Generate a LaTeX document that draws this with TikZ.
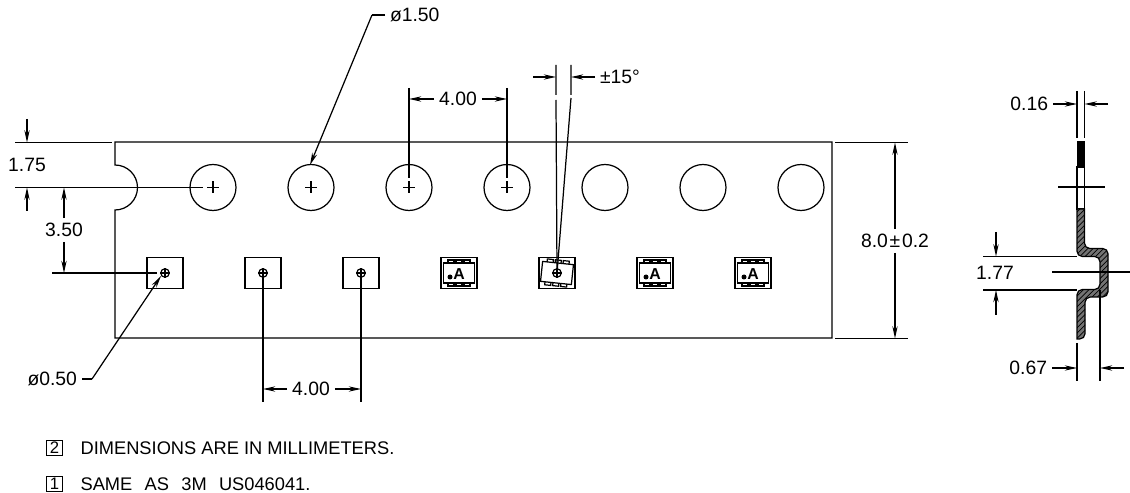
\documentclass[tikz,border=0pt]{standalone}
\usepackage{fontspec}
\setmainfont{Liberation Sans}
\usetikzlibrary{arrows.meta,patterns}
\tikzset{
every picture/.style={
line width=0.7pt
}}

\begin{document}
\begin{tikzpicture}[x=0.02cm, y=-0.02cm,
hole/.style = {circle, draw=black, inner sep=0pt, minimum size=0.92cm},
pocket/.style = {rectangle, draw=black, inner sep=0pt, minimum width=0.72cm, minimum height=0.63cm},
marker/.style = {circle, draw=black, inner sep=0pt, minimum size=0.17cm},
dim/.style = {font=\fontsize{11}{13}\selectfont, inner sep=2.5pt},
note/.style = {font=\fontsize{10.4}{12}\selectfont, inner sep=0pt, anchor=west},
numbox/.style = {draw=black, inner sep=0pt, minimum width=0.33cm, minimum height=0.31cm, font=\fontsize{9.5}{10}\selectfont},
letter/.style = {font=\fontsize{9}{9}\selectfont\bfseries, inner sep=0pt},
arr/.style = {-{Stealth[length=7pt,width=3pt]}},
chip/.pic = {
  \draw (-15.5,-10) rectangle (15.5,10);
  \draw (-11,-10) -- (-11,-13) -- (-5,-13) -- (-5,-10);
  \draw (-3,-10) -- (-3,-13) -- (3,-13) -- (3,-10);
  \draw (5,-10) -- (5,-13) -- (11,-13) -- (11,-10);
  \draw (-11,10) -- (-11,13) -- (-5,13) -- (-5,10);
  \draw (-3,10) -- (-3,13) -- (3,13) -- (3,10);
  \draw (5,10) -- (5,13) -- (11,13) -- (11,10);
}]
\useasboundingbox (0,0) rectangle (1130,493);

% tape
\draw (115,142) -- (832,142) -- (832,338) -- (115,338) -- (115,210)
  arc[start angle=90, end angle=-90, radius=22.5] -- cycle;

% sprocket holes
\node[hole] at (213,187.5) (h1) {};
\node[hole] at (311,187.5) (h2) {};
\node[hole] at (409,187.5) (h3) {};
\node[hole] at (507,187.5) (h4) {};
\node[hole] at (605,187.5) (h5) {};
\node[hole] at (703,187.5) (h6) {};
\node[hole] at (801,187.5) (h7) {};
\draw (h1.center) +(-6,0) -- +(6,0) +(0,-6) -- +(0,6);
\draw (h2.center) +(-6,0) -- +(6,0) +(0,-6) -- +(0,6);
\draw (h3.center) +(-6,0) -- +(6,0) +(0,-6) -- +(0,6);
\draw (h4.center) +(-6,0) -- +(6,0) +(0,-6) -- +(0,6);

% pockets
\node[pocket] at (165,273) (p1) {};
\node[pocket] at (263,273) (p2) {};
\node[pocket] at (361,273) (p3) {};
\node[pocket] at (459,273) (p4) {};
\node[pocket] at (557,273) (p5) {};
\node[pocket] at (655,273) (p6) {};
\node[pocket] at (753,273) (p7) {};
\pic at (p4) {chip};
\pic[rotate=-6] at (p5) {chip};
\pic at (p6) {chip};
\pic at (p7) {chip};
\node[letter] at (459,274) (a4) {A};
\node[letter] at (655,274) (a6) {A};
\node[letter] at (753,274) (a7) {A};
\fill (450,277) circle (2.5);
\fill (646,277) circle (2.5);
\fill (744,277) circle (2.5);
\node[marker] at (165,273) (m1) {};
\node[marker] at (263,273) (m2) {};
\node[marker] at (361,273) (m3) {};
\node[marker] at (557,273) (m5) {};
\draw (m1.west) -- (m1.east) (m1.north) -- (m1.south);
\draw (m2.west) -- (m2.east) (m2.north) -- (m2.south);
\draw (m3.west) -- (m3.east) (m3.north) -- (m3.south);
\draw (m5.west) -- (m5.east) (m5.north) -- (m5.south);

% diameters
\node[dim, anchor=west] at (385,15) (d150) {ø1.50};
\coordinate (d150k) at (372,15);
\coordinate (d150t) at (310,165);
\draw (d150) -- (d150k);
\draw[arr] (d150k) -- (d150t);
\node[dim, anchor=east] at (82,379) (d050) {ø0.50};
\coordinate (d050k) at (92,379);
\coordinate (d050t) at (161,276);
\draw (d050) -- (d050k);
\draw[arr] (d050k) -- (d050t);

% pitch above
\coordinate (e3) at (409,88);
\coordinate (e4) at (507,88);
\coordinate (e3b) at (409,178);
\coordinate (e4b) at (507,178);
\draw (e3) -- (e3b);
\draw (e4) -- (e4b);
\node[dim] at (458,99) (t400) {4.00};
\draw[arr] (t400) -- (e3 |- t400);
\draw[arr] (t400) -- (e4 |- t400);

% angle
\coordinate (s1) at (556,65);
\coordinate (s2) at (556,95);
\coordinate (s3) at (556,100);
\coordinate (s4) at (571,65);
\coordinate (s5) at (571,95);
\coordinate (s6) at (571,98);
\draw (s1) -- (s2) (s3) -- (p5.center);
\draw (s4) -- (s5) (s6) -- (p5.center);
\node[dim, anchor=west] at (595,77) (t15) {±15°};
\coordinate (s7) at (533,77);
\draw[arr] (s7) -- (s1 |- s7);
\draw[arr] (t15) -- (s4 |- t15);

% left dims
\coordinate (l1) at (15,142.5);
\coordinate (l2) at (112,142.5);
\coordinate (l3) at (15,187.5);
\coordinate (l4) at (203,187.5);
\coordinate (l5) at (52,273);
\coordinate (l6) at (157,273);
\draw (l1) -- (l2);
\draw (l3) -- (l4);
\draw (l5) -- (l6);
\node[dim] at (27,165) (t175) {1.75};
\coordinate (a1) at (27,119);
\coordinate (a2) at (27,211);
\draw[arr] (a1) -- (a1 |- l1);
\draw[arr] (a2) -- (a2 |- l3);
\node[dim] at (64,230) (t350) {3.50};
\draw[arr] (t350) -- (t350 |- l3);
\draw[arr] (t350) -- (t350 |- l5);

% pitch below
\coordinate (b1) at (263,402);
\coordinate (b2) at (361,402);
\draw (p2.center) -- (b1);
\draw (p3.center) -- (b2);
\node[dim] at (311,389) (b400) {4.00};
\draw[arr] (b400) -- (b1 |- b400);
\draw[arr] (b400) -- (b2 |- b400);

% width
\coordinate (r1) at (835,142.5);
\coordinate (r2) at (908,142.5);
\coordinate (r3) at (835,338.5);
\coordinate (r4) at (908,338.5);
\draw (r1) -- (r2);
\draw (r3) -- (r4);
\node[dim] at (895,241) (t80) {8.0\kern1pt±\kern1pt0.2};
\draw[arr] (t80) -- (t80 |- r1);
\draw[arr] (t80) -- (t80 |- r3);

% side view
\fill[black] (1077,141) rectangle (1084.5,167);
\draw (1077,167) rectangle (1084.5,209);
\draw[fill=black!55, postaction={pattern=north east lines}]
  (1084.5,209) [rounded corners=3pt] -- (1084.5,248.5) -- (1108,248.5)
  -- (1108,297) -- (1085,297) -- (1085,339) [sharp corners] -- (1077,339)
  [rounded corners=3pt] -- (1077,289.5) -- (1100,289.5)
  -- (1100,256.5) -- (1077,256.5) [sharp corners] -- (1077,209) -- cycle;
\coordinate (c1) at (1058,187);
\coordinate (c2) at (1105,187);
\coordinate (c3) at (1052,272);
\coordinate (c4) at (1130,272);
\draw (c1) -- (c2);
\draw (c3) -- (c4);

\coordinate (g1) at (1077,91);
\coordinate (g2) at (1077,138);
\coordinate (g3) at (1084.5,91);
\coordinate (g4) at (1084.5,138);
\draw (g1) -- (g2);
\draw (g3) -- (g4);
\node[dim, anchor=east] at (1053,104) (t016) {0.16};
\coordinate (g5) at (1108,104);
\draw[arr] (t016) -- (g1 |- t016);
\draw[arr] (g5) -- (g3 |- g5);

\coordinate (k1) at (983,256.5);
\coordinate (k2) at (1077,256.5);
\coordinate (k3) at (983,290);
\coordinate (k4) at (1077,290);
\draw (k1) -- (k2);
\draw (k3) -- (k4);
\node[dim] at (995,273) (t177) {1.77};
\coordinate (k5) at (996,232);
\coordinate (k6) at (996,315);
\draw[arr] (k5) -- (k5 |- k1);
\draw[arr] (k6) -- (k6 |- k3);

\coordinate (n1) at (1077,343);
\coordinate (n2) at (1077,381);
\coordinate (n3) at (1100,290);
\coordinate (n4) at (1100,381);
\draw (n1) -- (n2);
\draw (n3) -- (n4);
\node[dim, anchor=east] at (1052,368) (t067) {0.67};
\coordinate (n5) at (1124,368);
\draw[arr] (t067) -- (n1 |- t067);
\draw[arr] (n5) -- (n3 |- n5);

% notes
\node[numbox] at (54.5,448) (no2) {2};
\node[note] at (80,448) (txt2) {DIMENSIONS ARE IN MILLIMETERS.};
\node[numbox] at (54.5,484) (no1) {1};
\node[note] at (80,484) (txt1) {\spaceskip=7pt SAME AS 3M US046041.};
\end{tikzpicture}
\end{document}
